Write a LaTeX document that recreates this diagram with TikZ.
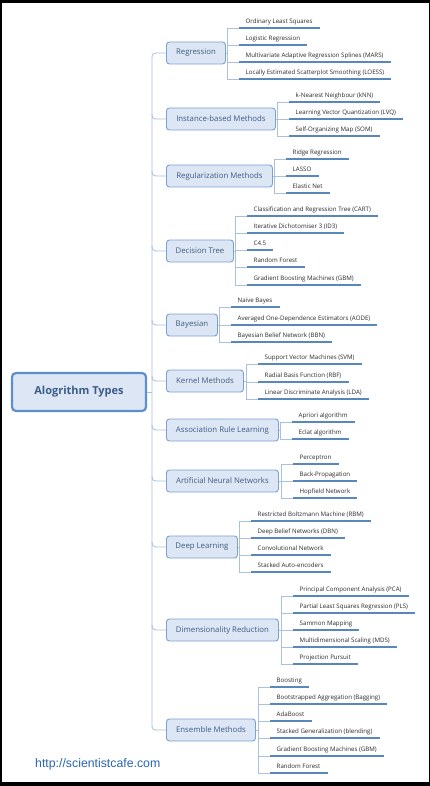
\documentclass[tikz,border=0pt]{standalone}
\usepackage{fontspec}
\setmainfont{Open Sans}
\newfontfamily\urlfont{Liberation Sans}
\usetikzlibrary{calc}
\definecolor{boxfill}{HTML}{DCE6F4}
\definecolor{catline}{HTML}{7BA1CF}
\definecolor{rootline}{HTML}{5F8FCB}
\definecolor{cattext}{HTML}{3E5C80}
\definecolor{roottext}{HTML}{3C5D88}
\definecolor{leafcol}{HTML}{2A2A2A}
\definecolor{branchcol}{HTML}{A9C1DE}
\definecolor{ulinecol}{HTML}{5A87BB}
\definecolor{urlcol}{HTML}{2A66B0}
\newcommand\lf[4]{%
  \node[leaftext] (#1) at ({#2+18.5},{#3-4.5}) {#4};
  \draw[branch] (#2,#3) -- ({#2+12},#3);
  \draw[uline] ({#2+12},#3) -- ([shift={(7pt,-4.5pt)}]#1.base east);
}
\newcommand\midbr[2]{% node, cy
  \draw[branch] (152,{#2-5}) .. controls (152,{#2-1.5}) and (153,#2) .. (157,#2) -- (#1.west);
}
\begin{document}
\begin{tikzpicture}[x=1pt,y=-1pt,
  catbox/.style={draw=catline, fill=boxfill, rounded corners=3pt, line width=0.9pt,
    minimum height=22pt, inner sep=0pt, text=cattext, font=\fontsize{7.8}{9}\selectfont, anchor=west},
  rootbox/.style={draw=rootline, fill=boxfill, rounded corners=4pt, line width=2.2pt,
    minimum width=134pt, minimum height=38pt, inner sep=0pt, text=roottext,
    font=\fontsize{11}{13}\selectfont\bfseries},
  leaftext/.style={inner sep=0pt, text=leafcol, font=\fontsize{6.15}{7}\selectfont, anchor=base west},
  branch/.style={draw=branchcol, line width=0.85pt},
  uline/.style={draw=ulinecol, line width=1.9pt}
]
\useasboundingbox (0,0) rectangle (430,786);
\fill[black] (0,0) rectangle (430,786);
\fill[white] (2,3) rectangle (429,782);

\node[rootbox] (root) at (79,392) {Alogrithm Types};

\node[catbox, minimum width=59pt] (c1) at (166,53) {Regression};
\node[catbox, minimum width=109pt] (c2) at (166,119) {Instance-based Methods};
\node[catbox, minimum width=106pt] (c3) at (166,176) {Regularization Methods};
\node[catbox, minimum width=67pt] (c4) at (166,251) {Decision Tree};
\node[catbox, minimum width=51pt] (c5) at (166,325) {Bayesian};
\node[catbox, minimum width=77pt] (c6) at (166,381) {Kernel Methods};
\node[catbox, minimum width=112pt] (c7) at (166,430) {Association Rule Learning};
\node[catbox, minimum width=112pt] (c8) at (166,481) {Artificial Neural Networks};
\node[catbox, minimum width=71pt] (c9) at (166,547) {Deep Learning};
\node[catbox, minimum width=112pt] (c10) at (166,630) {Dimensionality Reduction};
\node[catbox, minimum width=89pt] (c11) at (166,730) {Ensemble Methods};

% trunk
\draw[branch] (c1.west) -- (157,53) .. controls (153,53) and (152,54) .. (152,58)
  -- (152,725) .. controls (152,729) and (153,730) .. (157,730) -- (c11.west);
\draw[branch] (root.east) -- (152,392);
\midbr{c2}{119}
\midbr{c3}{176}
\midbr{c4}{251}
\midbr{c5}{325}
\midbr{c6}{381}
\midbr{c7}{430}
\midbr{c8}{481}
\midbr{c9}{547}
\midbr{c10}{630}

% Regression
\draw[branch] (c1.east) -- (227,53);
\draw[branch] (227,28) -- (227,79);
\lf{l11}{227}{28}{Ordinary Least Squares}
\lf{l12}{227}{45}{Logistic Regression}
\lf{l13}{227}{62}{Multivariate Adaptive Regression Splines (MARS)}
\lf{l14}{227}{79}{Locally Estimated Scatterplot Smoothing (LOESS)}

% Instance-based
\draw[branch] (c2.east) -- (277,119);
\draw[branch] (277,102) -- (277,136);
\lf{l21}{277}{102}{k-Nearest Neighbour (kNN)}
\lf{l22}{277}{119}{Learning Vector Quantization (LVQ)}
\lf{l23}{277}{136}{Self-Organizing Map (SOM)}

% Regularization
\draw[branch] (c3.east) -- (274,176);
\draw[branch] (274,159) -- (274,193);
\lf{l31}{274}{159}{Ridge Regression}
\lf{l32}{274}{176}{LASSO}
\lf{l33}{274}{193}{Elastic Net}

% Decision Tree
\draw[branch] (c4.east) -- (235,251);
\draw[branch] (235,216) -- (235,285);
\lf{l41}{235}{216}{Classification and Regression Tree (CART)}
\lf{l42}{235}{233}{Iterative Dichotomiser 3 (ID3)}
\lf{l43}{235}{250}{C4.5}
\lf{l44}{235}{267}{Random Forest}
\lf{l45}{235}{285}{Gradient Boosting Machines (GBM)}

% Bayesian
\draw[branch] (c5.east) -- (219,325);
\draw[branch] (219,307) -- (219,342);
\lf{l51}{219}{307}{Naive Bayes}
\lf{l52}{219}{325}{Averaged One-Dependence Estimators (AODE)}
\lf{l53}{219}{342}{Bayesian Belief Network (BBN)}

% Kernel
\draw[branch] (c6.east) -- (246,381);
\draw[branch] (246,364) -- (246,399);
\lf{l61}{246}{364}{Support Vector Machines (SVM)}
\lf{l62}{246}{382}{Radial Basis Function (RBF)}
\lf{l63}{246}{399}{Linear Discriminate Analysis (LDA)}

% Association
\draw[branch] (c7.east) -- (280,430);
\draw[branch] (280,422) -- (280,439);
\lf{l71}{280}{422}{Apriori algorithm}
\lf{l72}{280}{439}{Eclat algorithm}

% ANN
\draw[branch] (c8.east) -- (281,481);
\draw[branch] (281,464) -- (281,498);
\lf{l81}{281}{464}{Perceptron}
\lf{l82}{281}{481}{Back-Propagation}
\lf{l83}{281}{498}{Hopfield Network}

% Deep Learning
\draw[branch] (c9.east) -- (239,547);
\draw[branch] (239,521) -- (239,572);
\lf{l91}{239}{521}{Restricted Boltzmann Machine (RBM)}
\lf{l92}{239}{538}{Deep Belief Networks (DBN)}
\lf{l93}{239}{555}{Convolutional Network}
\lf{l94}{239}{572}{Stacked Auto-encoders}

% Dimensionality Reduction
\draw[branch] (c10.east) -- (281,630);
\draw[branch] (281,596) -- (281,664);
\lf{la1}{281}{596}{Principal Component Analysis (PCA)}
\lf{la2}{281}{613}{Partial Least Squares Regression (PLS)}
\lf{la3}{281}{630}{Sammon Mapping}
\lf{la4}{281}{647}{Multidimensional Scaling (MDS)}
\lf{la5}{281}{664}{Projection Pursuit}

% Ensemble
\draw[branch] (c11.east) -- (258,730);
\draw[branch] (258,687) -- (258,773);
\lf{lb1}{258}{687}{Boosting}
\lf{lb2}{258}{704}{Bootstrapped Aggregation (Bagging)}
\lf{lb3}{258}{721}{AdaBoost}
\lf{lb4}{258}{738}{Stacked Generalization (blending)}
\lf{lb5}{258}{756}{Gradient Boosting Machines (GBM)}
\lf{lb6}{258}{773}{Random Forest}

\node[inner sep=0pt, anchor=west, text=urlcol, font=\urlfont\fontsize{12.3}{14}\selectfont] (url) at (35,764) {http://scientistcafe.com};
\end{tikzpicture}
\end{document}
